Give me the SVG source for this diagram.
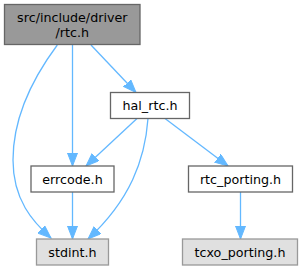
<svg xmlns="http://www.w3.org/2000/svg" width="303" height="271" viewBox="0 0 303 271">
<defs>
<style>
text{font-family:"DejaVu Sans",sans-serif;font-size:12.7px;fill:#000;text-anchor:middle}
.root{fill:#999999;stroke:#666666;stroke-width:1.3}
.node{fill:#ffffff;stroke:#666666;stroke-width:1.3}
.ext{fill:#e0e0e0;stroke:#999999;stroke-width:1.3}
.edge{fill:none;stroke:#63b8ff;stroke-width:1.3;marker-end:url(#arr)}
</style>
<marker id="arr" markerUnits="userSpaceOnUse" markerWidth="14" markerHeight="11" refX="13" refY="5" orient="auto">
<path d="M0,0 L13,5 L0,10 z" fill="#63b8ff" stroke="#63b8ff" stroke-width="1"/>
</marker>
</defs>
<rect width="303" height="271" fill="#ffffff"/>
<g id="edges">
<path class="edge" d="M57.3,45 C35,75 13,115 13,160 C13,200 33,222 51,238"/>
<path class="edge" d="M72.5,45 L72.5,166"/>
<path class="edge" d="M91,45 L136,92.5"/>
<path class="edge" d="M137,118.5 L86,166"/>
<path class="edge" d="M148,118.5 C145,160 130,200 88,239"/>
<path class="edge" d="M165,118.5 L228,166"/>
<path class="edge" d="M72.5,192 L72.5,239"/>
<path class="edge" d="M240.5,192 L240.5,239"/>
</g>
<g id="node-rtc">
<rect class="root" x="4.5" y="4.5" width="135.5" height="40"/>
<text x="72.3" y="21.5">src/include/driver</text>
<text x="72.3" y="37">/rtc.h</text>
</g>
<g id="node-hal_rtc">
<rect class="node" x="110.5" y="92.5" width="79" height="26"/>
<text x="150" y="110">hal_rtc.h</text>
</g>
<g id="node-errcode">
<rect class="node" x="31" y="166" width="83" height="26"/>
<text x="72.5" y="183.5">errcode.h</text>
</g>
<g id="node-rtc_porting">
<rect class="node" x="188.5" y="166" width="104" height="26"/>
<text x="240.5" y="183.5">rtc_porting.h</text>
</g>
<g id="node-stdint">
<rect class="ext" x="36.5" y="239" width="72" height="26"/>
<text x="72.5" y="256.5">stdint.h</text>
</g>
<g id="node-tcxo">
<rect class="ext" x="182.5" y="239" width="115" height="26"/>
<text x="240" y="256.5">tcxo_porting.h</text>
</g>
</svg>
